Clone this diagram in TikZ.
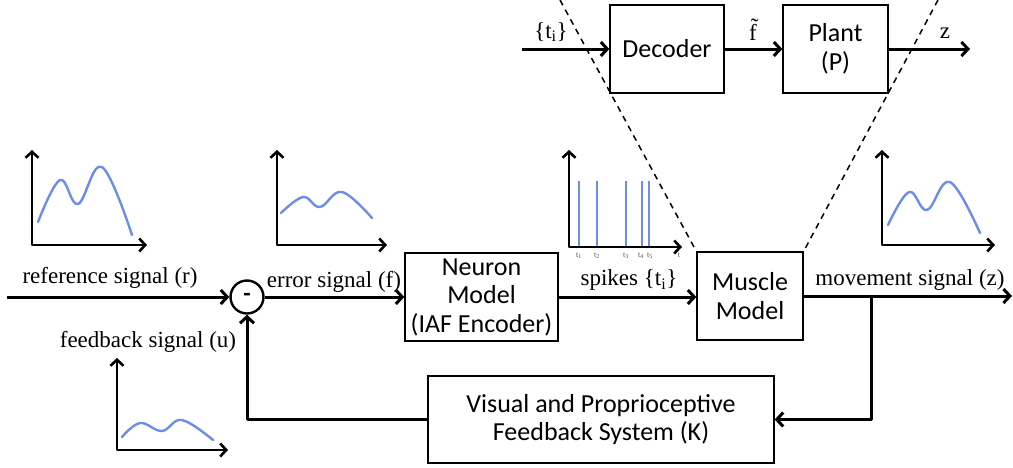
\documentclass[tikz,border=0pt]{standalone}
\usepackage{fontspec}
\setmainfont{Liberation Serif}
\newfontfamily\boxfont{Carlito}
\usetikzlibrary{arrows.meta}
\definecolor{curveblue}{RGB}{108,142,232}
\tikzset{
  blk/.style={draw, line width=1.3pt, inner sep=0pt, align=center,
    font=\boxfont\fontsize{26}{28.5}\selectfont},
  sig/.style={line width=3pt, line join=round,
    -{Straight Barb[length=6.5pt,width=14pt]}},
  lbl/.style={inner sep=0pt, font=\fontsize{23}{26}\selectfont},
  tiny/.style={inner sep=0pt, text=black!70, font=\fontsize{8}{9}\selectfont},
  axes/.style={line width=2.6pt, line join=round,
    {Straight Barb[length=6pt,width=13pt]}-{Straight Barb[length=6pt,width=13pt]}},
  wave/.style={draw=curveblue, line width=2.4pt, line cap=round},
  spike/.style={draw=curveblue, line width=2pt},
  dashline/.style={line width=1.5pt, dash pattern=on 6pt off 5pt},
  sumnode/.style={draw, circle, line width=2.4pt, minimum size=33pt, inner sep=0pt,
    font=\boxfont\bfseries\fontsize{24}{24}\selectfont}
}
\begin{document}
\begin{tikzpicture}[x=1pt,y=-1pt]
\useasboundingbox (0,0) rectangle (1013,467);

% blocks
\node[blk, minimum width=114pt, minimum height=88pt] (decoder) at (667,49) {Decoder};
\node[blk, minimum width=105pt, minimum height=88pt] (plant) at (835.5,49) {Plant\\(P)};
\node[blk, minimum width=153pt, minimum height=88pt] (neuron) at (481.5,297) {Neuron\\Model\\(IAF Encoder)};
\node[blk, minimum width=106pt, minimum height=88pt] (muscle) at (750,296) {Muscle\\Model};
\node[blk, minimum width=346pt, minimum height=87pt] (visual) at (601,419.5) {Visual and Proprioceptive\\Feedback System (K)};
\node[sumnode] (sum) at (247,297) {-};

% free ends
\coordinate (rin) at (7,297);
\coordinate (zout) at (1012,296);
\coordinate (br) at (871,296);
\coordinate (tin) at (522,49);
\coordinate (zo) at (970,49);
\coordinate (dl) at (560,0);
\coordinate (dr) at (938,0);

% connectors
\draw[sig] (rin) -- (sum.west);
\draw[sig] (sum.east) -- (sum.east -| neuron.west);
\draw[sig] (neuron.east) -- (neuron.east -| muscle.west);
\draw[sig] (muscle.east) -- (zout);
\draw[sig] (br) |- (visual.east);
\draw[sig] (visual.west) -| (sum.south);
\draw[sig] (tin) -- (decoder.west);
\draw[sig] (decoder.east) -- (plant.west);
\draw[sig] (plant.east) -- (zo);
\draw[dashline] (dl) -- (muscle.north west);
\draw[dashline] (dr) -- (muscle.north east);

% labels
\node[lbl] (lr) at (110,278) {reference signal (r)};
\node[lbl] (le) at (334,282) {error signal (f)};
\node[lbl] (lfb) at (148,342) {feedback signal (u)};
\node[lbl] (ls) at (629,280) {spikes \{t\textsubscript{i}\}};
\node[lbl] (lm) at (910,280) {movement signal (z)};
\node[lbl] (lt) at (551,32) {\{t\textsubscript{i}\}};
\node[lbl] (lf) at (753,30) {\~{f}};
\node[lbl] (lz) at (945,33) {z};

% graphs: reference
\draw[axes] (32,150) -- (32,245) -- (147,245);
\draw[wave] plot[smooth, tension=0.65] coordinates {(38,222) (60,180) (78,204) (102,167) (132,235)};
% error
\draw[axes] (277,150) -- (277,245) -- (387,245);
\draw[wave] plot[smooth, tension=0.65] coordinates {(281,213) (303,197) (320,207) (342,192) (372,218)};
% movement
\draw[axes] (882,150) -- (882,245) -- (995,245);
\draw[wave] plot[smooth, tension=0.65] coordinates {(888,225) (909,192) (927,210) (950,182) (980,233)};
% feedback
\draw[axes] (117,358) -- (117,450) -- (228,450);
\draw[wave] plot[smooth, tension=0.65] coordinates {(122,437) (140,423) (162,431) (182,420) (213,440)};
% spikes
\foreach \sx in {579,597,626,642,649} \draw[spike] (\sx,181) -- (\sx,246);
\draw[axes] (569,150) -- (569,247) -- (682,247);
\node[tiny] (t1) at (579,256) {t\textsubscript{1}};
\node[tiny] (t2) at (597,256) {t\textsubscript{2}};
\node[tiny] (t3) at (626,256) {t\textsubscript{3}};
\node[tiny] (t4) at (641,256) {t\textsubscript{4}};
\node[tiny] (t5) at (650,256) {t\textsubscript{5}};
\node[tiny] (tt) at (679,255) {t};
\end{tikzpicture}
\end{document}
